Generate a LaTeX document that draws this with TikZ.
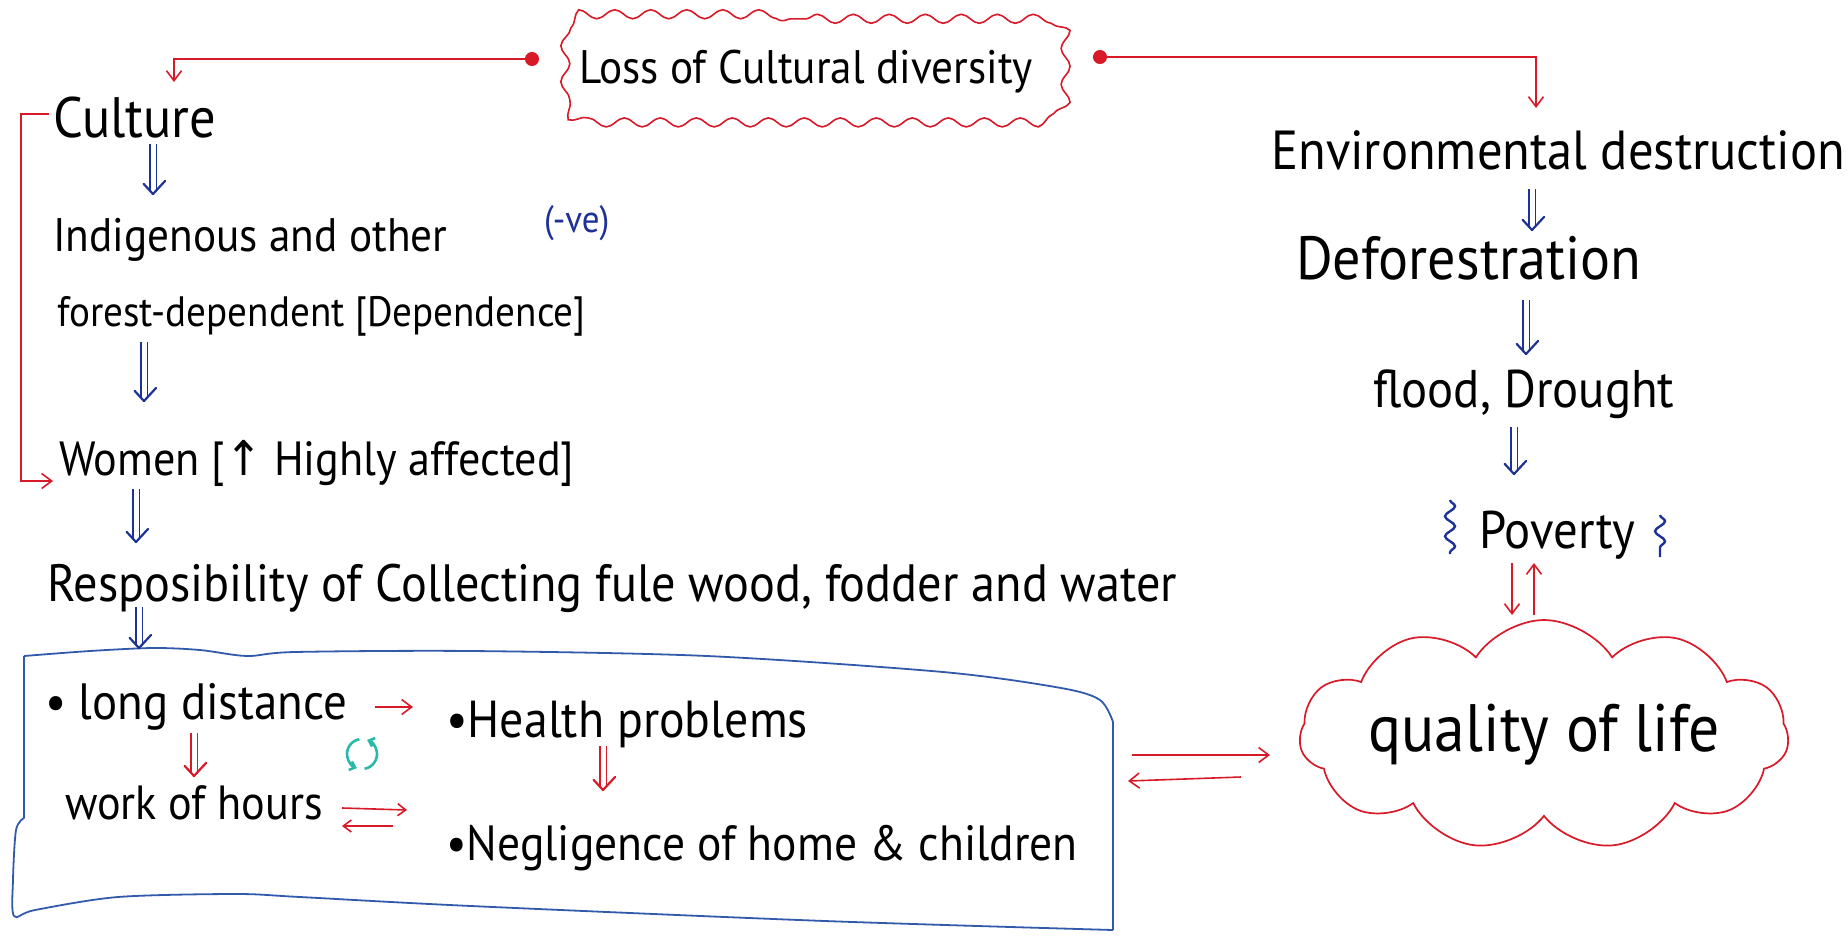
\documentclass[tikz,border=0pt]{standalone}
\usepackage{fontspec}
\setmainfont{PT Sans}
\newfontfamily\handfont[FakeStretch=0.92]{PT Sans}
\newfontfamily\symbfont[FakeStretch=0.92]{DejaVu Sans}
\usetikzlibrary{arrows.meta,shapes.symbols,decorations.pathmorphing,decorations.markings}
\definecolor{mkred}{RGB}{215,25,40}
\definecolor{mkblue}{RGB}{30,50,150}
\definecolor{boxblue}{RGB}{50,90,170}
\definecolor{mkteal}{RGB}{40,185,170}

\begin{document}
\begin{tikzpicture}[x=1pt,y=-1pt,>={Straight Barb[length=10pt,width=15pt]},
  hand/.style={font=\handfont\fontsize{#1}{#1}\selectfont,inner sep=0pt,anchor=base west},
  hand/.default=50,
  dbl/.style={draw=#1,double=white,double distance=5pt,line width=1.8pt,shorten >=4pt,
    postaction={decorate,decoration={markings,mark=at position 1 with
      {\pgfsetinnerlinewidth{0pt}\pgfsetlinewidth{2.2pt}\pgfsetstrokecolor{#1}%
       \pgfsetroundcap\pgfsetroundjoin
       \pgfpathmoveto{\pgfpoint{-13pt}{12pt}}\pgfpathlineto{\pgfpointorigin}%
       \pgfpathlineto{\pgfpoint{-13pt}{-12pt}}\pgfusepath{stroke}}}}},
  dbl/.default=mkblue,
  redarr/.style={draw=mkred,line width=1.6pt,->},
  boxline/.style={draw=boxblue,line width=1.8pt,line join=round}]
  \useasboundingbox (0,0) rectangle (1848,935);
  % top: the cause
  \node[hand=47,anchor=center,minimum width=498pt,minimum height=106pt] (loss) at (806,72) {Loss of Cultural diversity};
  \draw[mkred,line width=1.6pt,decorate,decoration={snake,amplitude=4.5pt,segment length=36pt}]
    (loss.north) -- ([xshift=-22pt]loss.north east) arc[start angle=-90,end angle=0,radius=22]
    -- ([yshift=22pt]loss.south east) arc[start angle=0,end angle=90,radius=22]
    -- ([xshift=22pt]loss.south west) arc[start angle=90,end angle=180,radius=22]
    -- ([yshift=-22pt]loss.north west) arc[start angle=180,end angle=270,radius=22] -- cycle;
  % left column
  \node[hand=57] (culture) at (53,137) {Culture};
  \node[hand=47] (indig) at (53,251) {Indigenous and other};
  \node[hand=42.5] (forest) at (57,326) {forest-dependent [Dependence]};
  \node[hand=38,text=mkblue] (neg) at (544,232) {(-ve)};
  \node[hand=48] (women) at (59,475) {Women [{\symbfont ↑} Highly affected]};
  \node[hand=52.5] (resp) at (47,601) {Resposibility of Collecting fule wood, fodder and water};
  % inside the blue box
  \node[hand=51] (longd) at (45,719) {• long distance};
  \node[hand=52] (health) at (446,737) {•Health problems};
  \node[hand=48] (work) at (65,819) {work of hours};
  \node[hand=49.5] (negl) at (446,860) {•Negligence of home \& children};
  % right column
  \node[hand=55] (env) at (1271,169) {Environmental destruction};
  \node[hand=61] (defo) at (1296,279) {Deforestration};
  \node[hand=53] (flood) at (1373,407) {flood, Drought};
  \node[hand=53] (pov) at (1479,548) {Poverty};
  \node[hand=67,anchor=center,cloud,draw=mkred,line width=1.7pt,cloud puffs=11,
        cloud puff arc=115,cloud ignores aspect,minimum width=390pt,
        minimum height=230pt] (qol) at (1544,735) {quality of life};
  % hand drawn box round the burdens
  \draw[boxline] plot[smooth,tension=0.5] coordinates {(24,656) (90,651) (153,648) (200,650)
    (247,656) (295,652) (471,651) (707,656) (943,672) (1061,688) (1100,700) (1113,722)} -- (1113,930);
  \draw[boxline] plot[smooth,tension=0.5] coordinates {(1113,930) (825,921) (471,906) (300,897)
    (236,894) (118,897) (35,910) (14,916) (13,880) (16,830) (24,818)} -- (24,656);
  \coordinate (boxtop) at (139,648);
  \coordinate (boxeast) at (1114,766);
  % red links from the top box
  \draw[redarr,{Circle[length=14pt]}->] ([xshift=-267pt,yshift=13pt]loss.center)
    -| ([xshift=121pt,yshift=55pt]culture.base west);
  \draw[redarr,{Circle[length=14pt]}->] ([xshift=287pt,yshift=15pt]loss.center)
    -| ([xshift=265pt,yshift=61pt]env.base west);
  \draw[redarr] ([xshift=-4pt,yshift=23pt]culture.base west) -- ++(-28,0)
    |- ([xshift=-6pt,yshift=-6pt]women.base west);
  % blue chains
  \draw[dbl] ([xshift=100pt,yshift=-7pt]culture.base west) -- ([xshift=100pt,yshift=57pt]indig.base west);
  \draw[dbl] ([xshift=87pt,yshift=-16pt]forest.base west) -- ([xshift=85pt,yshift=74pt]women.base west);
  \draw[dbl] ([xshift=77pt,yshift=-14pt]women.base west) -- ([xshift=89pt,yshift=59pt]resp.base west);
  \draw[dbl] ([xshift=92pt,yshift=-6pt]resp.base west) -- (boxtop);
  \draw[dbl] ([xshift=261pt,yshift=-20pt]env.base west) -- ([xshift=236pt,yshift=49pt]defo.base west);
  \draw[dbl] ([xshift=230pt,yshift=-21pt]defo.base west) -- ([xshift=153pt,yshift=53pt]flood.base west);
  \draw[dbl] ([xshift=141pt,yshift=-20pt]flood.base west) -- ([xshift=35pt,yshift=74pt]pov.base west);
  % red links inside the box
  \draw[redarr,->={Straight Barb[length=7pt,width=11pt]}] ([xshift=330pt,yshift=12pt]longd.base west)
    -- ([xshift=-33pt,yshift=30pt]health.base west);
  \draw[dbl=mkred] ([xshift=149pt,yshift=-14pt]longd.base west) -- ([xshift=129pt,yshift=43pt]work.base west);
  \draw[dbl=mkred] ([xshift=157pt,yshift=-9pt]health.base west) -- ([xshift=157pt,yshift=70pt]negl.base west);
  \draw[redarr,-{Straight Barb[length=8pt,width=12pt]}] ([xshift=277pt,yshift=11pt]work.base west)
    -- ([xshift=-39pt,yshift=50pt]negl.base west);
  \draw[redarr,-{Straight Barb[length=8pt,width=12pt]}] ([xshift=-53pt,yshift=34pt]negl.base west)
    -- ([xshift=277pt,yshift=-7pt]work.base west);
  \draw[mkteal,line width=2.6pt,-{Straight Barb[length=5pt,width=9pt]}] (362,754) ++(-100:15)
    arc[start angle=-100,end angle=-250,radius=15];
  \draw[mkteal,line width=2.6pt,-{Straight Barb[length=5pt,width=9pt]}] (362,754) ++(-280:15)
    arc[start angle=-280,end angle=-430,radius=15];
  % box and quality of life
  \draw[redarr] ([xshift=18pt,yshift=11pt]boxeast) -- ([xshift=-274pt,yshift=-20pt]qol.center);
  \draw[redarr] ([xshift=-303pt,yshift=-42pt]qol.center) -- ([xshift=14pt,yshift=-15pt]boxeast);
  % poverty and quality of life
  \draw[redarr,->={Straight Barb[length=9pt,width=12pt]}] ([xshift=33pt,yshift=-15pt]pov.base west)
    -- ([xshift=-32pt,yshift=120pt]qol.center);
  \draw[redarr,->={Straight Barb[length=9pt,width=12pt]}] ([xshift=-10pt,yshift=120pt]qol.center)
    -- ([xshift=55pt,yshift=-15pt]pov.base west);
  \draw[mkblue,line width=2.4pt,decorate,decoration={snake,amplitude=5pt,segment length=20pt}]
    ([xshift=-29pt,yshift=48pt]pov.base west) -- ([xshift=-29pt,yshift=-6pt]pov.base west);
  \draw[mkblue,line width=2.4pt,decorate,decoration={snake,amplitude=5pt,segment length=20pt}]
    ([xshift=181pt,yshift=33pt]pov.base west) -- ([xshift=181pt,yshift=-9pt]pov.base west);
\end{tikzpicture}
\end{document}
